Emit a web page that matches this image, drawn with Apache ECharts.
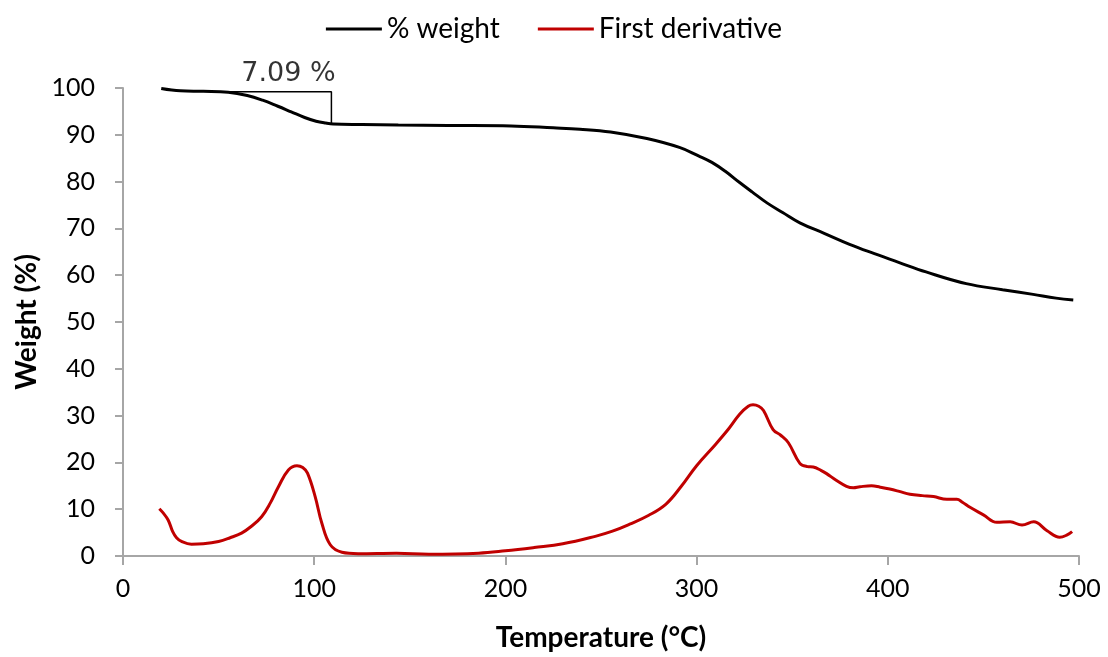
<!DOCTYPE html>
<html>
<head>
<meta charset="utf-8">
<title>TGA</title>
<script src="https://cdn.jsdelivr.net/npm/echarts@6/dist/echarts.min.js"></script>
<style>
  html, body { margin: 0; padding: 0; background: #fff; }
  #chart { width: 1108px; height: 657px; }
</style>
</head>
<body>
<div id="chart"></div>
<script>
// Thermogravimetric curve: temperature (°C) and remaining weight (%)
const weightTemp = [20, 30, 42, 55, 65, 73, 81, 88, 95, 101, 106, 110, 125, 144, 170, 203, 225, 239, 255, 274, 291, 301, 308, 315, 322.5, 329, 337, 345, 354, 367, 380, 393, 406, 420, 441, 460, 476, 488, 497];
const weightPct  = [99.9, 99.4, 99.3, 99.1, 98.4, 97.4, 96.1, 94.9, 93.7, 92.9, 92.5, 92.3, 92.2, 92.1, 92.0, 91.9, 91.5, 91.2, 90.6, 89.2, 87.3, 85.5, 84.1, 82.2, 79.8, 77.8, 75.4, 73.4, 71.2, 68.9, 66.6, 64.6, 62.7, 60.7, 58.2, 56.9, 55.9, 55.1, 54.7];

// First derivative of the weight curve
const derivTemp = [19, 21, 23.6, 26, 28, 30.6, 35.8, 42, 50, 56, 62, 67, 72.5, 77, 81.3, 86.5, 91, 94, 96.5, 100.5, 104, 108.4, 114.5, 123, 143, 160, 186, 200, 215, 230, 247, 256, 265, 275, 284, 292, 300, 310, 317, 322.5, 327, 329.5, 332.5, 335, 340, 344, 348, 354, 358, 361, 365, 368, 373, 378.4, 382, 385.4, 391.5, 396, 401, 406, 411.6, 418, 423.9, 430.9, 436.1, 439, 443, 450, 457, 464, 470.2, 476.3, 483.3, 489.9, 493.8, 496.4];
const derivVal  = [10.1, 9.2, 7.7, 5.2, 3.9, 3.1, 2.5, 2.6, 3.1, 3.9, 4.9, 6.3, 8.4, 11.3, 14.8, 18.4, 19.3, 18.9, 17.7, 12.7, 7.0, 2.4, 0.8, 0.5, 0.6, 0.4, 0.6, 1.1, 1.8, 2.6, 4.2, 5.3, 6.8, 8.7, 11.1, 14.9, 19.3, 23.9, 27.3, 30.3, 32.0, 32.3, 32.0, 31.1, 27.0, 25.8, 24.2, 19.8, 19.1, 19.0, 18.3, 17.6, 16.2, 14.9, 14.6, 14.8, 15.0, 14.7, 14.3, 13.8, 13.2, 12.9, 12.7, 12.1, 12.1, 11.5, 10.4, 8.8, 7.2, 7.3, 6.6, 7.3, 5.4, 4.0, 4.5, 5.2];

// First mass-loss step: bracket from the plateau to the end of the step
const stepStart = 55;
const stepEnd = 109;
const stepTop = 99.2;
const stepLoss = 7.09;
const stepLabel = '7.09 %';
const stepLabelPos = [86.5, 102.9];

const xTicks = [0, 100, 200, 300, 400, 500];
const yTicks = [0, 10, 20, 30, 40, 50, 60, 70, 80, 90, 100];

const zip = (a, b) => a.map((v, i) => [v, b[i]]);

const axisGray = '#a6a6a6';
const txtFont = 'Lato, "Open Sans", sans-serif';

const chart = echarts.init(document.getElementById('chart'), null, { renderer: 'canvas' });
chart.setOption({
  animation: false,
  backgroundColor: '#ffffff',
  textStyle: { fontFamily: txtFont },
  legend: {
    top: 10,
    left: 'center',
    itemWidth: 56,
    itemHeight: 3,
    itemGap: 38,
    icon: 'rect',
    textStyle: { fontSize: 28, color: '#000', fontFamily: txtFont },
    data: ['% weight', 'First derivative']
  },
  grid: { left: 123, right: 29, top: 88, bottom: 101 },
  xAxis: {
    type: 'value',
    min: xTicks[0],
    max: xTicks[xTicks.length - 1],
    interval: xTicks[1] - xTicks[0],
    name: 'Temperature (°C)',
    nameLocation: 'middle',
    nameGap: 68,
    nameTextStyle: { fontSize: 28, fontWeight: 'bold', color: '#000', fontFamily: txtFont },
    splitLine: { show: false },
    axisLine: { lineStyle: { color: axisGray, width: 2 } },
    axisTick: { show: true, length: 9, lineStyle: { color: axisGray, width: 2 } },
    axisLabel: { fontSize: 25, color: '#000', margin: 20, fontFamily: txtFont }
  },
  yAxis: {
    type: 'value',
    min: yTicks[0],
    max: yTicks[yTicks.length - 1],
    interval: yTicks[1] - yTicks[0],
    name: 'Weight (%)',
    nameLocation: 'middle',
    nameGap: 82,
    nameTextStyle: { fontSize: 28, fontWeight: 'bold', color: '#000', fontFamily: txtFont },
    splitLine: { show: false },
    axisLine: { show: true, lineStyle: { color: axisGray, width: 2 } },
    axisTick: { show: true, length: 8, lineStyle: { color: axisGray, width: 2 } },
    axisLabel: { fontSize: 25, color: '#000', margin: 28, fontFamily: txtFont }
  },
  series: [
    {
      name: '% weight',
      type: 'line',
      data: zip(weightTemp, weightPct),
      smooth: 0.4,
      showSymbol: false,
      symbol: 'none',
      color: '#000000',
      lineStyle: { color: '#000000', width: 3 },
      z: 3
    },
    {
      name: 'First derivative',
      type: 'line',
      data: zip(derivTemp, derivVal),
      smooth: 0.4,
      showSymbol: false,
      symbol: 'none',
      color: '#c00000',
      lineStyle: { color: '#c00000', width: 3 },
      z: 3
    },
    {
      name: 'step',
      type: 'line',
      data: [[stepStart, stepTop], [stepEnd, stepTop], [stepEnd, stepTop - stepLoss]],
      showSymbol: false,
      symbol: 'none',
      lineStyle: { color: '#000000', width: 1.5 },
      silent: true,
      z: 2
    },
    {
      name: 'stepLabel',
      type: 'scatter',
      data: [stepLabelPos],
      symbolSize: 0,
      clip: false,
      silent: true,
      label: {
        show: true,
        position: 'inside',
        formatter: stepLabel,
        fontSize: 27,
        color: '#000',
        fontFamily: '"DejaVu Sans", sans-serif'
      }
    }
  ]
});
</script>
</body>
</html>
